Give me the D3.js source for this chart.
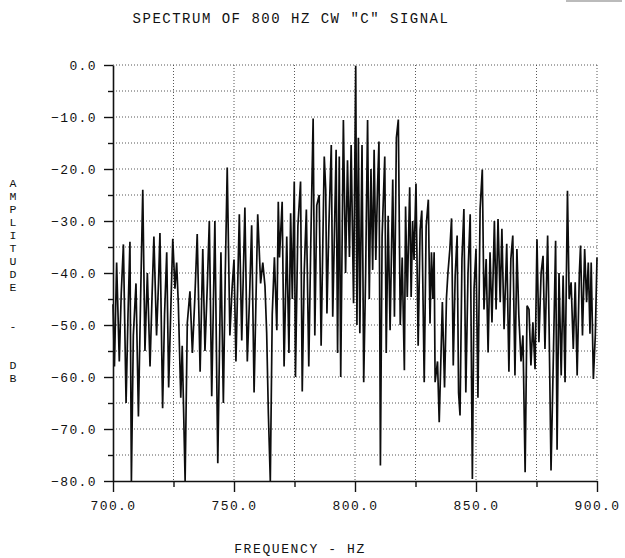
<!DOCTYPE html>
<html>
<head>
<meta charset="utf-8">
<script src="https://cdn.jsdelivr.net/npm/d3@7"></script>
<style>
html,body{margin:0;padding:0;background:#fff;}
svg{display:block;}
text{font-family:"Liberation Mono","DejaVu Sans Mono",monospace;fill:#111;}
</style>
</head>
<body>
<svg id="chart" width="625" height="558"></svg>
<script>
// ---- data ----
const titleText = 'SPECTRUM OF 800 HZ CW "C" SIGNAL';
const xTitle = 'FREQUENCY - HZ';
const yTitleLetters = ['A','M','P','L','I','T','U','D','E','','','-','','','D','B'];

const xMajorTicks = [700, 750, 800, 850, 900];
const xMinorTicks = [725, 775, 825, 875];
const yMajorTicks = [0, -10, -20, -30, -40, -50, -60, -70, -80];
const yMinorTicks = [-5, -15, -25, -35, -45, -55, -65, -75];
const xGrid = [725, 750, 775, 800, 825, 850, 875, 900];
const yGrid = [0, -5, -10, -15, -20, -25, -30, -35, -40, -45, -50, -55, -60, -65, -70, -75];

// frequency (Hz) of each peak / trough of the trace
const freqs = [
700.0,700.6,701.5,702.6,703.4,704.3,705.4,706.2,707.0,707.6,708.4,709.5,710.5,711.4,712.3,713.2,714.2,715.3,716.1,716.9,
718.0,718.8,719.4,720.5,721.3,722.2,723.0,724.0,724.7,725.6,726.3,727.0,728.0,728.6,729.8,730.7,731.8,732.8,733.8,734.8,
736.0,737.1,738.0,739.0,739.8,740.8,742.1,743.3,744.6,745.6,746.4,747.2,748.3,749.2,750.0,750.8,752.2,753.2,754.5,755.5,
756.4,757.3,758.3,759.8,761.0,761.9,762.8,763.5,764.2,765.0,765.8,766.7,767.7,768.3,768.8,769.9,770.7,771.8,772.7,773.4,
774.1,774.9,775.4,776.4,777.5,778.2,779.0,779.9,780.9,781.7,782.7,783.4,784.2,785.2,786.0,787.3,787.9,788.4,789.2,790.2,
790.8,792.2,792.8,793.5,794.1,795.2,796.1,796.9,797.7,798.4,799.4,800.3,800.8,801.4,802.0,802.9,803.6,804.4,805.2,805.9,
806.6,807.3,807.9,808.6,809.3,809.9,810.5,811.2,812.3,812.9,813.7,814.5,815.6,816.3,817.1,817.9,818.7,819.5,820.4,820.9,
821.6,822.6,823.2,823.8,824.4,825.2,826.1,826.9,827.6,828.6,829.4,830.3,831.0,831.6,832.2,832.7,833.1,834.1,834.8,835.6,
836.1,837.0,837.8,838.4,839.2,839.9,840.6,841.4,842.2,842.8,843.4,844.2,845.0,845.8,846.7,847.6,848.5,849.2,850.0,850.8,
851.7,852.6,853.3,854.2,855.0,855.8,856.6,857.6,858.3,859.1,860.0,860.7,861.6,862.7,863.6,864.4,865.2,866.1,866.9,867.7,
868.6,869.4,870.3,871.1,871.9,872.7,873.5,874.4,875.2,876.0,876.9,877.7,878.5,879.6,880.2,881.0,881.9,882.9,883.5,884.3,
885.2,886.0,886.8,887.8,888.5,889.3,890.2,891.0,891.8,892.7,893.2,894.0,894.9,895.7,896.4,897.1,897.6,898.5,899.3,900.0
];
// amplitude (dB) at each of those frequencies
const amps = [
-46,-58,-38,-57,-44,-34.5,-65,-48,-34,-80,-52,-42,-67.6,-45,-24,-55,-40,-58,-45,-33,
-52,-42,-32.3,-66,-48,-36,-62,-45,-33.4,-43,-38,-46,-64,-54,-80,-49.6,-43.5,-55.4,-45,-32.5,
-59,-35.4,-55,-42,-30,-63.7,-30,-76.6,-36,-65,-40,-19.7,-52,-43,-37.4,-57,-28.7,-53,-27.4,-57,
-45,-30.8,-63,-28.7,-42,-38,-42.5,-51.5,-67,-80,-48,-37,-51,-26.3,-37,-26.3,-58,-33,-55.4,-28.5,
-45,-22.4,-60,-31,-22.4,-62.8,-40,-27.8,-58,-35,-10.3,-52,-27,-25,-54,-17.6,-24,-47.8,-31,-15.4,
-48.4,-16.3,-55.4,-17.6,-60,-10.6,-40,-18.3,-36.9,-15.4,-45.8,-0.2,-50,-14,-51.6,-15.4,-61,-40,-10.6,-45,
-20,-39.4,-16.3,-37.5,-23.7,-14.7,-77,-33,-17.6,-55.4,-29,-51,-22,-48.4,-14,-10.5,-50,-37,-58.7,-27.2,
-44.6,-23.5,-44.6,-30,-37.5,-22.8,-54,-31.7,-28,-61,-31,-25.9,-49.7,-36,-45,-36,-61,-57,-68.7,-54.6,
-45.6,-62,-44.7,-40,-35.4,-29.5,-57.8,-40.5,-32.8,-63,-67.4,-37.3,-27.7,-63,-40,-28.7,-79.6,-43,-35.4,-64,
-27.7,-20.1,-47,-37.3,-55.3,-36,-49.5,-30,-47,-29.6,-45.6,-31.5,-50.8,-34.4,-59,-37.3,-32.8,-59.7,-35.4,-48.2,
-57,-52,-78.3,-46.3,-47,-57.8,-49.5,-58.5,-33.5,-53.3,-40,-36.7,-54.6,-32.8,-50,-78,-57.8,-33.8,-74,-40,
-59.7,-40.5,-61,-24.2,-45,-41.8,-54.6,-41.8,-59.7,-40.2,-34.7,-52,-35.4,-45.6,-38,-51.7,-38,-60.4,-52,-37
];

const points = freqs.map((f, i) => ({f: f, a: amps[i]}));

// ---- drawing ----
const svg = d3.select('#chart');
const x = d3.scaleLinear().domain([700, 900]).range([113, 597]);
const y = d3.scaleLinear().domain([-80, 0]).range([481, 65]);
const fmt = d3.format('.1f');

// artifact bar at top-right of the scan
svg.append('line').attr('x1', 566).attr('x2', 622).attr('y1', 1).attr('y2', 1)
  .attr('stroke', '#bbb').attr('stroke-width', 2);

// title
svg.append('text').attr('x', 291).attr('y', 23).attr('text-anchor', 'middle')
  .style('font-size', '14px').style('letter-spacing', '1.5px').text(titleText);

// grid
const grid = svg.append('g').attr('stroke', '#444').attr('stroke-width', 0.9)
  .attr('stroke-dasharray', '1,2');
grid.selectAll('line.h').data(yGrid).join('line').attr('class', 'h')
  .attr('x1', x(700)).attr('x2', x(900)).attr('y1', d => y(d)).attr('y2', d => y(d));
grid.selectAll('line.v').data(xGrid).join('line').attr('class', 'v')
  .attr('x1', d => x(d)).attr('x2', d => x(d)).attr('y1', y(0)).attr('y2', y(-80));

// trace
const line = d3.line().x(d => x(d.f)).y(d => y(d.a));
svg.append('path').datum(points).attr('d', line)
  .attr('fill', 'none').attr('stroke', '#0d0d0d').attr('stroke-width', 1.7)
  .attr('stroke-linejoin', 'miter').attr('stroke-miterlimit', 3);

// y axis
svg.append('g').attr('transform', `translate(${x(700)},0)`)
  .call(d3.axisLeft(y).tickValues(yMajorTicks).tickSize(9).tickSizeOuter(0)
    .tickPadding(7).tickFormat(fmt));
svg.append('g').attr('transform', `translate(${x(700)},0)`)
  .call(d3.axisLeft(y).tickValues(yMinorTicks).tickSize(5).tickFormat(''))
  .call(g => g.select('.domain').remove());

// x axis
svg.append('g').attr('transform', `translate(0,${y(-80)})`)
  .call(d3.axisBottom(x).tickValues(xMajorTicks).tickSize(11).tickSizeOuter(0)
    .tickPadding(9).tickFormat(fmt));
svg.append('g').attr('transform', `translate(0,${y(-80)})`)
  .call(d3.axisBottom(x).tickValues(xMinorTicks).tickSize(6).tickFormat(''))
  .call(g => g.select('.domain').remove());

svg.selectAll('.tick line').attr('stroke', '#111').attr('stroke-width', 1.4);
svg.selectAll('.domain').attr('stroke', '#111').attr('stroke-width', 1.6);
svg.selectAll('.tick text')
  .style('font-family', '"Liberation Mono","DejaVu Sans Mono",monospace')
  .style('font-size', '13px').style('letter-spacing', '1.4px').attr('fill', '#111');

// axis titles
svg.append('text').attr('x', 300).attr('y', 553).attr('text-anchor', 'middle')
  .style('font-size', '13px').style('letter-spacing', '1.6px').text(xTitle);

svg.append('g').selectAll('text').data(yTitleLetters).join('text')
  .attr('x', 13).attr('y', (d, i) => 187 + i * 13).attr('text-anchor', 'middle')
  .style('font-size', '11.5px').text(d => d);
</script>
</body>
</html>
